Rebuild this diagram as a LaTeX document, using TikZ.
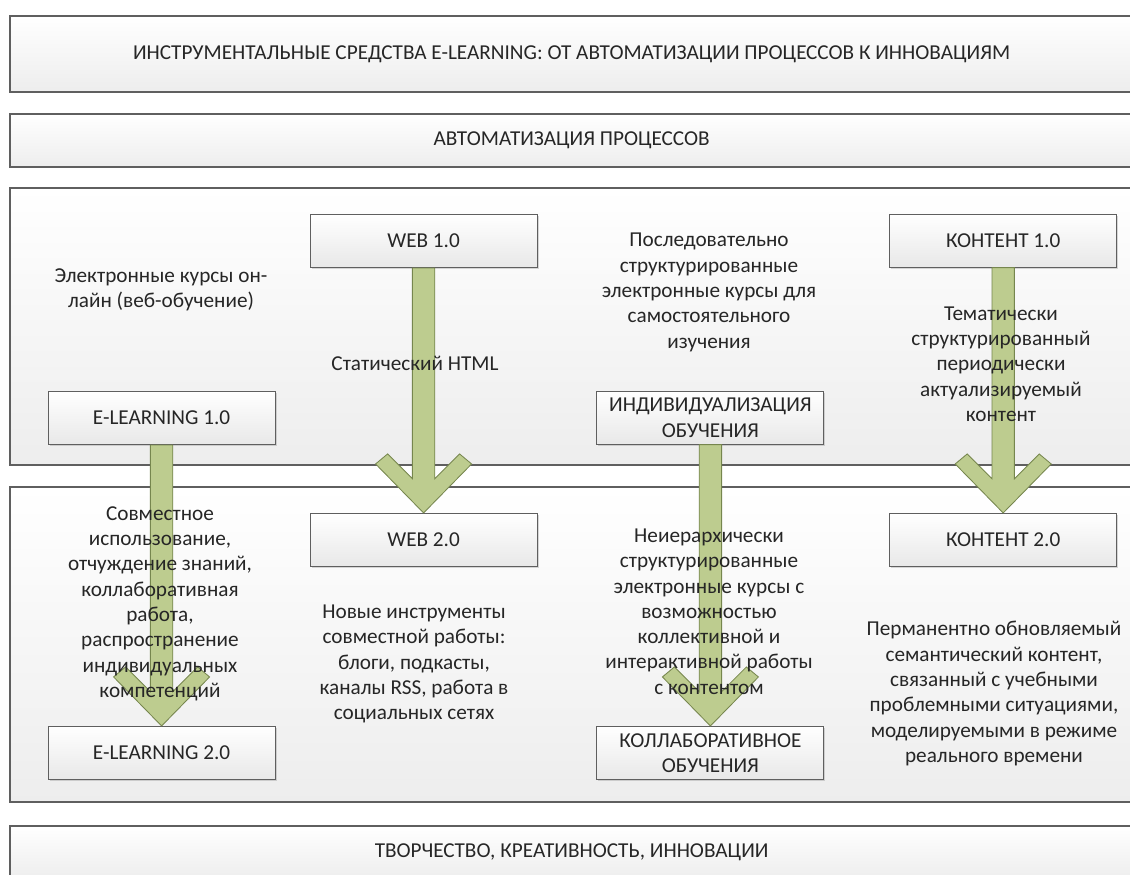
\documentclass[tikz,border=0pt]{standalone}
\usepackage{fontspec}
\setmainfont{Carlito}
\usepackage{tikz}
\usetikzlibrary{calc,shadows}
\definecolor{arrowfill}{RGB}{189,204,143}
\definecolor{arrowline}{RGB}{118,134,78}
\definecolor{boxline}{RGB}{95,95,95}
\definecolor{inktext}{RGB}{38,38,38}

% wide chevron arrow from the bottom of one stage box to the top of another
\newcommand{\stagearrow}[2]{%
  \path[shiftarrow] ($(#1.south)+(-0.28,0)$) -- ($(#2.north)+(-0.28,0.855)$)
    -- ($(#2.north)+(-0.9,1.475)$) -- ($(#2.north)+(-1.2,1.225)$) -- (#2.north)
    -- ($(#2.north)+(1.2,1.225)$) -- ($(#2.north)+(0.9,1.475)$)
    -- ($(#2.north)+(0.28,0.855)$) -- ($(#1.south)+(0.28,0)$) -- cycle;}

\begin{document}
\begin{tikzpicture}[
    font=\fontsize{15.1}{18}\selectfont,
    panel/.style={draw=boxline, line width=0.9pt, top color=white, bottom color=black!7, minimum width=28.075cm, text=inktext, inner sep=0pt, drop shadow={shadow xshift=1pt, shadow yshift=-1pt, opacity=0.3}},
    stage/.style={draw=boxline, line width=0.8pt, top color=white, bottom color=black!9, minimum width=5.675cm, minimum height=1.325cm, align=center, text=inktext, inner sep=1pt, drop shadow={shadow xshift=1pt, shadow yshift=-1pt, opacity=0.3}},
    note/.style={align=center, text=inktext},
    shiftarrow/.style={fill=arrowfill, draw=arrowline, line width=0.6pt, line join=miter},
]
\useasboundingbox (0,0) rectangle (28.25,-21.875);

% ─────────────────────────────────────────
% Horizontal bands
% ─────────────────────────────────────────
\node[panel, minimum height=1.9cm] (title) at (14.29, -1.35)
    {ИНСТРУМЕНТАЛЬНЫЕ СРЕДСТВА E-LEARNING: ОТ АВТОМАТИЗАЦИИ ПРОЦЕССОВ К ИННОВАЦИЯМ};
\node[panel, minimum height=1.325cm] (auto) at (14.29, -3.5125) {АВТОМАТИЗАЦИЯ ПРОЦЕССОВ};
\node[panel, minimum height=6.925cm] (upper) at (14.29, -8.1625) {};
\node[panel, minimum height=7.875cm] (lower) at (14.29, -16.1125) {};
\node[panel, minimum height=1.325cm] (creat) at (14.29, -21.3125) {ТВОРЧЕСТВО, КРЕАТИВНОСТЬ, ИННОВАЦИИ};

% ─────────────────────────────────────────
% Stage boxes: 1.0 row and 2.0 row
% ─────────────────────────────────────────
\node[stage] (el1) at (4.04, -10.45) {E-LEARNING 1.0};
\node[stage] (web1) at (10.59, -6.025) {WEB 1.0};
\node[stage] (indiv) at (17.76, -10.44) {ИНДИВИДУАЛИЗАЦИЯ\\ОБУЧЕНИЯ};
\node[stage] (cont1) at (25.08, -6.015) {КОНТЕНТ 1.0};

\node[stage] (el2) at (4.04, -18.825) {E-LEARNING 2.0};
\node[stage] (web2) at (10.59, -13.5) {WEB 2.0};
\node[stage] (collab) at (17.76, -18.825) {КОЛЛАБОРАТИВНОЕ\\ОБУЧЕНИЯ};
\node[stage] (cont2) at (25.08, -13.5) {КОНТЕНТ 2.0};

% Transition arrows
\stagearrow{el1}{el2}
\stagearrow{web1}{web2}
\stagearrow{indiv}{collab}
\stagearrow{cont1}{cont2}

% ─────────────────────────────────────────
% Descriptions
% ─────────────────────────────────────────
\node[note] (onl) at (4.025, -7.25) {Электронные курсы он-\\лайн (веб-обучение)};
\node[note] (html) at (10.375, -9.075) {Статический HTML};
\node[note] (seq) at (17.725, -7.31) {Последовательно\\структурированные\\электронные курсы для\\самостоятельного\\изучения};
\node[note] (them) at (25.025, -9.1) {Тематически\\структурированный\\периодически\\актуализируемый\\контент};

\node[note] (share) at (4.0, -15.09) {Совместное\\использование,\\отчуждение знаний,\\коллаборативная\\работа,\\распространение\\индивидуальных\\компетенций};
\node[note] (tools) at (10.35, -16.6) {Новые инструменты\\совместной работы:\\блоги, подкасты,\\каналы RSS, работа в\\социальных сетях};
\node[note] (nonh) at (17.725, -15.29) {Неиерархически\\структурированные\\электронные курсы с\\возможностью\\коллективной и\\интерактивной работы\\с контентом};
\node[note] (perm) at (24.85, -17.34) {Перманентно обновляемый\\семантический контент,\\связанный с учебными\\проблемными ситуациями,\\моделируемыми в режиме\\реального времени};

\end{tikzpicture}
\end{document}
